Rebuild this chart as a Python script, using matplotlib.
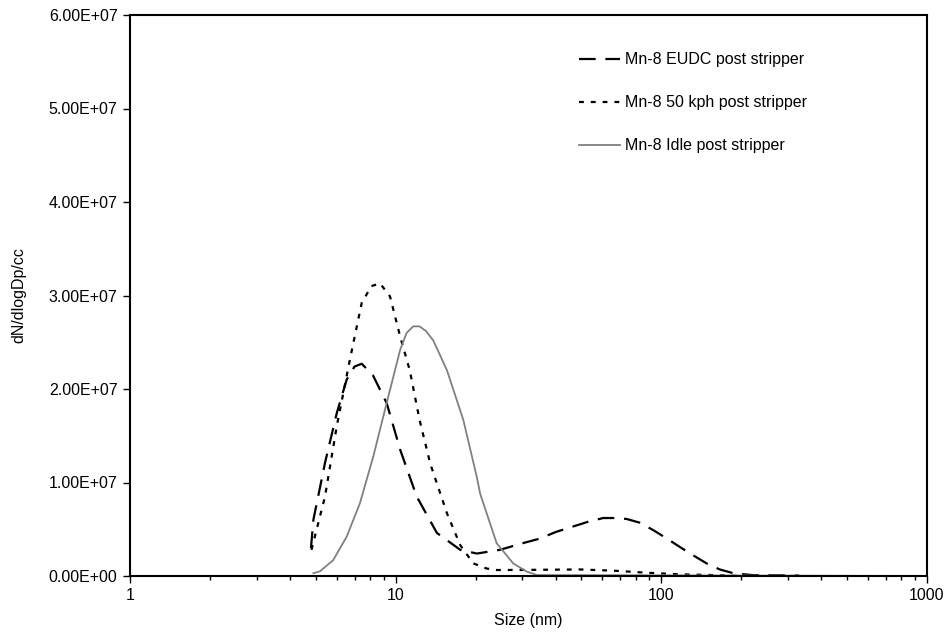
import matplotlib
matplotlib.use("Agg")
import matplotlib.pyplot as plt
from matplotlib.ticker import FuncFormatter, LogLocator, FixedLocator, NullFormatter

plt.rcParams['font.family'] = ['Liberation Sans', 'DejaVu Sans']
plt.rcParams['lines.scale_dashes'] = False

# Data (values in units of 1e7 particles/cc)
eudc_x = [4.8, 4.9, 5.42, 6.0, 6.54, 7.0, 7.45, 8.2, 9.25, 10.4, 12.0, 14.3, 17.5, 20.2,
          24.7, 30, 34.9, 40, 46.6, 53, 60.4, 67, 74, 83, 93.3, 105, 117.5, 132, 148,
          166, 186.5, 220, 330]
eudc_y = [0.3, 0.6, 1.21, 1.74, 2.1, 2.24, 2.27, 2.15, 1.85, 1.35, 0.85, 0.46, 0.28, 0.24,
          0.28, 0.35, 0.40, 0.47, 0.53, 0.58, 0.62, 0.62, 0.61, 0.57, 0.49, 0.40, 0.31,
          0.22, 0.135, 0.07, 0.03, 0.01, 0.005]

kph_x = [4.82, 5.42, 6.0, 6.72, 7.45, 8.1, 8.73, 9.52, 10.4, 11.3, 12.3, 13.5, 15.6, 17.5,
         19.6, 22, 24, 30, 40, 49.4, 66, 88, 117, 157, 200, 330]
kph_y = [0.28, 0.85, 1.6, 2.31, 2.92, 3.1, 3.13, 2.99, 2.56, 2.2, 1.67, 1.2, 0.67, 0.33,
         0.135, 0.08, 0.064, 0.065, 0.068, 0.07, 0.057, 0.035, 0.018, 0.01, 0.0, 0.0]

idle_x = [4.9, 5.19, 5.82, 6.54, 7.34, 8.24, 9.25, 10.4, 11.0, 11.65, 12.3, 13.0, 13.85,
          15.6, 17.97, 20.2, 20.8, 24, 27.7, 31, 34, 1000]
idle_y = [0.03, 0.05, 0.17, 0.42, 0.78, 1.28, 1.85, 2.42, 2.6, 2.67, 2.67, 2.62, 2.52,
          2.2, 1.67, 1.06, 0.88, 0.35, 0.135, 0.05, 0.01, 0.0]

labels = ["Mn-8 EUDC post stripper", "Mn-8 50 kph post stripper", "Mn-8 Idle post stripper"]
scale = 1e7
FS = 11.5

fig = plt.figure(figsize=(9.49, 6.32), dpi=100)
ax = fig.add_axes([130/949, 1-576/632, (927-130)/949, (576-15)/632])

ax.plot(eudc_x, [v*scale for v in eudc_y], color='black', lw=1.6,
        dashes=(12, 7), label=labels[0])
ax.plot(kph_x, [v*scale for v in kph_y], color='black', lw=1.6,
        dashes=(3.5, 5), label=labels[1])
ax.plot(idle_x, [v*scale for v in idle_y], color='#808080', lw=1.3,
        label=labels[2])

ax.set_xscale('log')
ax.set_xlim(1, 1000)
ax.set_ylim(0, 6e7)
ax.set_yticks([i*1e7 for i in range(7)])
ax.yaxis.set_major_formatter(FuncFormatter(lambda v, p: f"{v:.2E}"))
ax.xaxis.set_major_locator(FixedLocator([1, 10, 100, 1000]))
ax.xaxis.set_major_formatter(FuncFormatter(lambda v, p: f"{v:g}"))
ax.xaxis.set_minor_locator(LogLocator(base=10, subs=range(2, 10)))
ax.xaxis.set_minor_formatter(NullFormatter())

for s in ax.spines.values():
    s.set_linewidth(1.5)
ax.tick_params(axis='both', which='major', direction='out', length=5, width=1, labelsize=FS, pad=4)
ax.tick_params(axis='x', which='minor', direction='out', length=3, width=1)

ax.set_xlabel("Size (nm)", fontsize=FS, labelpad=7)
ax.set_ylabel("dN/dlogDp/cc", fontsize=FS, labelpad=16)

leg = ax.legend(loc='upper left', bbox_to_anchor=(0.545, 0.959), frameon=False, fontsize=FS,
                handlelength=2.6, handletextpad=0.3, labelspacing=1.75)

fig.savefig("out.png", dpi=100)
